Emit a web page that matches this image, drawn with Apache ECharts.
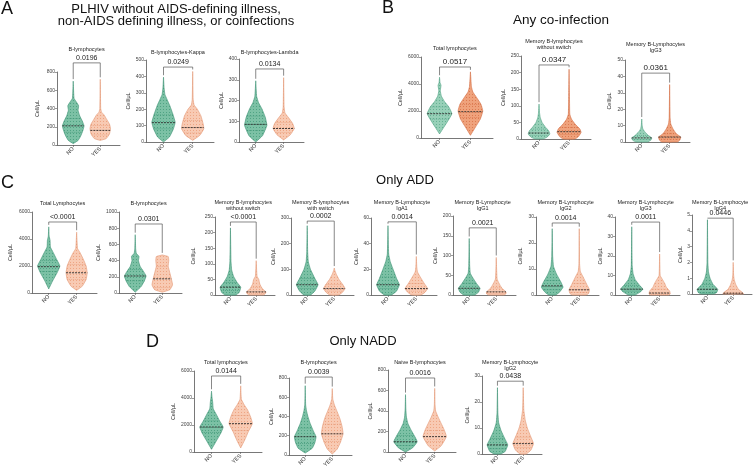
<!DOCTYPE html>
<html>
<head>
<meta charset="utf-8">
<script src="https://cdn.jsdelivr.net/npm/echarts@6/dist/echarts.min.js"></script>
<style>
html, body { margin: 0; padding: 0; background: #fff; }
#main { width: 756px; height: 470px; }
</style>
</head>
<body>
<div id="main"></div>
<script>
// values, one entry per small plot (A1..A3, B1..B3, C1..C9, D1..D4)
const groups = ['NO', 'YES'];
const titles = [
    'B-lymphocytes', 'B-lymphocytes-Kappa', 'B-lymphocytes-Lambda',
    'Total lymphocytes', 'Memory B-lymphocytes\nwithout switch', 'Memory B-Lymphocytes\nIgG3',
    'Total Lymphocytes', 'B-lymphocytes', 'Memory B-lymphocytes\nwithout switch', 'Memory B-lymphocytes\nwith switch',
    'Memory B-Lymphocyte\nIgA1', 'Memory B-Lymphocyte\nIgG1', 'Memory B-Lymphocyte\nIgG2', 'Memory B-Lymphocyte\nIgG3',
    'Memory B-Lymphocyte\nIgG4',
    'Total lymphocytes', 'B-lymphocytes', 'Naive B-lymphocytes', 'Memory B-Lymphocyte\nIgG2'
];
const pValues = ['0.0196', '0.0249', '0.0134', '0.0517', '0.0347', '0.0361', '<0.0001', '0.0301', '<0.0001',
    '0.0002', '0.0014', '0.0021', '0.0014', '0.0011', '0.0446', '0.0144', '0.0039', '0.0016', '0.0438'];
const yMax = [800, 500, 400, 6000, 250, 50, 6000, 1000, 250, 300, 60, 200, 30, 40, 5, 6000, 800, 800, 30];
const yStep = [200, 100, 100, 2000, 50, 10, 2000, 200, 50, 100, 20, 50, 10, 10, 1, 2000, 200, 200, 10];
const bracketAt = [900, 457, 352, 5260, 223, 42, 5260, 852, 234, 288, 57, 170, 27.7, 37.4, 4.8, 5630, 810, 722, 28];

const medNo = [210, 118, 85, 1800, 18, 2.5, 1950, 210, 25, 40, 8, 17, 3.5, 3, 0.3, 1850, 190, 100, 3.5];
const medYes = [160, 88, 65, 1950, 22, 3, 1500, 175, 10, 25, 5, 8, 2, 1, 0.05, 2100, 220, 150, 4];
const q1No = [140, 80, 55, 1400, 10, 1.5, 1600, 150, 15, 25, 5, 10, 2, 2, 0.1, 1450, 120, 65, 2];
const q3No = [290, 165, 125, 2300, 30, 4, 2400, 290, 40, 65, 14, 30, 5.5, 5, 0.6, 2300, 280, 160, 6];
const q1Yes = [110, 55, 45, 1500, 13, 1.8, 1000, 70, 5, 15, 3, 4, 1, 0.5, 0.02, 1600, 140, 100, 2.5];
const q3Yes = [215, 130, 95, 2500, 35, 5, 2100, 330, 25, 40, 9, 18, 4.5, 3, 0.3, 2700, 320, 210, 6.5];

// violin outlines: [value, relative half width]
const shapeNo = [
    [[15,0],[50,0.45],[100,0.7],[160,0.9],[210,1],[260,0.85],[320,0.6],[380,0.45],[430,0.5],[470,0.3],[510,0.08],[580,0.04],[700,0]],
    [[0,0],[30,0.5],[80,0.85],[120,1],[170,0.8],[220,0.55],[260,0.3],[290,0.12],[330,0.05],[395,0]],
    [[0,0],[30,0.6],[80,1],[120,0.85],[160,0.55],[190,0.25],[220,0.08],[295,0]],
    [[300,0],[800,0.35],[1300,0.7],[1800,1],[2300,0.75],[2700,0.4],[3100,0.15],[3500,0.06],[3900,0.12],[4100,0.04],[4500,0]],
    [[0,0.3],[5,0.65],[15,0.9],[25,0.8],[35,0.55],[50,0.25],[65,0.1],[80,0.04],[105,0]],
    [[0,0.5],[1,0.8],[2.5,0.9],[4,0.6],[6,0.3],[8,0.1],[10,0.04],[14,0]],
    [[300,0],[900,0.35],[1500,0.75],[2000,1],[2500,0.7],[3000,0.4],[3400,0.15],[3900,0.12],[4200,0.04],[4900,0]],
    [[10,0],[80,0.55],[150,0.85],[210,1],[270,0.75],[330,0.45],[400,0.3],[450,0.35],[490,0.1],[550,0.04],[720,0]],
    [[0,0.5],[8,0.85],[25,1],[40,0.65],[60,0.3],[80,0.12],[110,0.05],[215,0]],
    [[0,0.3],[15,0.7],[40,1],[65,0.7],[100,0.3],[130,0.1],[170,0.04],[270,0]],
    [[0,0.3],[3,0.75],[8,1],[13,0.75],[20,0.45],[26,0.2],[32,0.06],[54,0]],
    [[0,0.5],[7,0.85],[17,1],[30,0.65],[45,0.3],[55,0.1],[75,0.04],[143,0]],
    [[0,0.3],[1,0.65],[3,1],[5,0.8],[8,0.4],[11,0.12],[15,0.04],[25.5,0]],
    [[0,0.3],[1.5,0.75],[3,1],[5,0.7],[8,0.3],[11,0.12],[15,0.04],[35,0]],
    [[0,0.6],[0.1,0.9],[0.3,1],[0.6,0.55],[1,0.25],[1.4,0.1],[2,0.04],[4.7,0]],
    [[200,0],[800,0.4],[1400,0.8],[1850,1],[2300,0.7],[2800,0.4],[3200,0.15],[3700,0.1],[4000,0.05],[4500,0]],
    [[20,0],[70,0.65],[130,0.9],[190,1],[250,0.75],[330,0.45],[400,0.25],[460,0.12],[520,0.04],[720,0]],
    [[0,0],[40,0.6],[100,1],[160,0.75],[220,0.45],[280,0.2],[340,0.08],[420,0.03],[560,0]],
    [[0,0.3],[1,0.75],[3.5,1],[6,0.7],[9,0.35],[12,0.12],[16,0.04],[25.5,0]]
];
const shapeYes = [
    [[50,0],[70,0.55],[120,0.85],[180,0.95],[230,0.85],[280,0.6],[330,0.35],[360,0.12],[400,0.04],[720,0]],
    [[10,0],[40,0.6],[80,0.95],[110,0.9],[160,0.7],[200,0.4],[225,0.12],[260,0.04],[430,0]],
    [[10,0],[35,0.6],[65,0.95],[90,0.8],[120,0.4],[140,0.12],[170,0.04],[310,0]],
    [[200,0],[800,0.4],[1400,0.8],[2000,1],[2500,0.85],[3000,0.5],[3400,0.2],[3800,0.08],[4900,0]],
    [[0,0.5],[8,0.8],[20,1],[30,0.9],[45,0.5],[60,0.2],[75,0.06],[140,0.03],[210,0]],
    [[0,0.7],[1,0.9],[3,1],[5,0.6],[8,0.3],[11,0.1],[15,0.04],[35,0]],
    [[200,0],[500,0.5],[1000,0.85],[1500,0.95],[2000,0.85],[2500,0.6],[3000,0.3],[3300,0.08],[4500,0]],
    [[10,0],[40,0.7],[100,0.95],[170,0.85],[250,0.7],[330,0.55],[400,0.6],[450,0.55],[470,0]],
    [[0,0.7],[3,0.85],[10,0.95],[20,0.6],[35,0.35],[50,0.25],[60,0.08],[110,0]],
    [[0,0.4],[10,0.75],[25,1],[40,0.8],[60,0.45],[80,0.2],[95,0.06],[105,0]],
    [[0,0.4],[2,0.75],[5,1],[9,0.7],[14,0.35],[18,0.1],[22,0.04],[30,0]],
    [[0,0.7],[3,0.9],[8,0.9],[18,0.5],[30,0.25],[40,0.08],[60,0.04],[95,0]],
    [[0,0.6],[0.5,0.85],[2,0.95],[4,0.7],[7,0.35],[9,0.1],[12,0.03],[25.5,0]],
    [[0,0.8],[0.5,0.95],[2,0.9],[4,0.6],[6,0.45],[8,0.25],[10,0.05],[21,0]],
    [[0,1],[0.1,0.9],[0.3,0.5],[0.6,0.25],[0.9,0.1],[1.2,0.04],[2,0]],
    [[300,0],[900,0.35],[1500,0.65],[2100,1],[2600,0.85],[3100,0.6],[3500,0.3],[3900,0.06],[4900,0]],
    [[10,0],[60,0.45],[130,0.75],[220,1],[300,0.9],[380,0.7],[450,0.45],[520,0.2],[580,0.05],[690,0]],
    [[10,0],[60,0.55],[150,1],[220,0.8],[280,0.55],[340,0.3],[400,0.08],[460,0.03],[620,0]],
    [[0,0.3],[1.5,0.75],[4,1],[7,0.7],[10,0.4],[13,0.2],[17,0.06],[25.5,0]]
];

// layout: [left, top, width, height] of each plot area, title y, y-name gap
const boxes = [
    [57, 72, 63, 73], [146, 60, 68, 82], [239, 59, 65, 83],
    [421, 57, 72, 81], [521, 56, 70, 83], [625, 60, 65, 82],
    [32, 212, 65, 81], [119, 212, 63, 81], [215, 217, 60, 78], [291, 218, 63, 77], [371, 218, 66, 77],
    [453, 216, 63, 79], [536, 217, 63, 78], [615, 217, 65, 78], [692, 215, 60, 79],
    [194, 371, 68, 81], [289, 378, 63, 78], [388, 370, 68, 82], [482, 376, 60, 78]
];
const titleY = [49, 52, 52, 48, 41, 44, 203, 203, 202, 202, 202, 202, 202, 202, 202, 362, 362, 362, 362];
const nameGaps = [17, 12, 11, 16, 13, 13, 19, 16, 19, 14, 12, 14, 13, 11, 6, 16, 11, 11, 7];

const FONT = 'Liberation Sans, Arial, sans-serif';

function panelOf(g) {
    if (g < 3) return 'A';
    if (g < 6) return 'B';
    if (g < 15) return 'C';
    return 'D';
}

// small dotted tile so the violins look packed with points like the original
function dotTile(bg, dot) {
    const c = document.createElement('canvas');
    c.width = 3;
    c.height = 3;
    const ctx = c.getContext('2d');
    ctx.fillStyle = bg;
    ctx.fillRect(0, 0, 3, 3);
    ctx.fillStyle = dot;
    ctx.fillRect(1, 1, 1, 1);
    return { image: c, repeat: 'repeat' };
}
const palette = {
    green: { fill: dotTile('#7cc1a5', '#4fa383'), line: '#3a9172' },
    greenB: { fill: dotTile('#97d0b8', '#66b193'), line: '#4c9f80' },
    peach: { fill: dotTile('#f8cab3', '#eea583'), line: '#e39572' },
    orangeB: { fill: dotTile('#efa27c', '#dc7a50'), line: '#d46d43' }
};
function colorsOf(g, i) {
    const b = panelOf(g) === 'B';
    if (i === 0) return b ? palette.greenB : palette.green;
    return b ? palette.orangeB : palette.peach;
}
function widthAt(shape, v) {
    for (let k = 1; k < shape.length; k++) {
        if (v <= shape[k][0]) {
            const a = shape[k - 1], b = shape[k];
            const t = (v - a[0]) / (b[0] - a[0] || 1);
            return a[1] + t * (b[1] - a[1]);
        }
    }
    return 0;
}

function violinItem(g) {
    return function (params, api) {
        const i = params.dataIndex;
        const shape = i === 0 ? shapeNo[g] : shapeYes[g];
        const med = i === 0 ? medNo[g] : medYes[g];
        const q1 = i === 0 ? q1No[g] : q1Yes[g];
        const q3 = i === 0 ? q3No[g] : q3Yes[g];
        const col = colorsOf(g, i);
        const cx = api.coord([api.value(0), 0])[0];
        const hw = api.size([1, 0])[0] * 0.4;
        const left = [], right = [];
        shape.forEach(function (p) {
            const y = api.coord([1, p[0]])[1];
            left.push([cx - p[1] * hw, y]);
            right.unshift([cx + p[1] * hw, y]);
        });
        const hline = function (v, stroke, dash, lw) {
            const w = widthAt(shape, v) * hw;
            const y = api.coord([1, v])[1];
            return {
                type: 'line',
                shape: { x1: cx - w, y1: y, x2: cx + w, y2: y },
                style: { stroke: stroke, lineWidth: lw, lineDash: dash }
            };
        };
        return {
            type: 'group',
            children: [
                {
                    type: 'polygon',
                    shape: { points: left.concat(right), smooth: 0.12 },
                    style: { fill: col.fill, stroke: col.line, lineWidth: 0.6 }
                },
                hline(q1, col.line, [1, 1], 0.6),
                hline(q3, col.line, [1, 1], 0.6),
                hline(med, '#2b2b2b', [2, 1], 0.9)
            ]
        };
    };
}

function bracketItem(g) {
    return function (params, api) {
        const yb = api.coord([1, bracketAt[g]])[1];
        const x1 = api.coord([1, 0])[0];
        const x2 = api.coord([2, 0])[0];
        const topNo = api.coord([1, shapeNo[g][shapeNo[g].length - 1][0]])[1] - 2;
        const topYes = api.coord([2, shapeYes[g][shapeYes[g].length - 1][0]])[1] - 2;
        return {
            type: 'group',
            children: [
                {
                    type: 'polyline',
                    shape: { points: [[x1, Math.max(topNo, yb)], [x1, yb], [x2, yb], [x2, Math.max(topYes, yb)]] },
                    style: { stroke: '#555', lineWidth: 0.7, fill: null }
                },
                {
                    type: 'text',
                    style: {
                        text: pValues[g], x: (x1 + x2) / 2, y: yb - 1.5,
                        align: 'center', verticalAlign: 'bottom',
                        fontSize: panelOf(g) === 'B' ? 8 : 7, fontFamily: FONT, fill: '#222'
                    }
                }
            ]
        };
    };
}

const grids = [], xAxes = [], yAxes = [], series = [], texts = [];
boxes.forEach(function (b, g) {
    grids.push({ left: b[0], top: b[1], width: b[2], height: b[3] });
    xAxes.push({
        gridIndex: g, type: 'value', min: 0.4, max: 2.73,
        axisLine: { lineStyle: { color: '#555', width: 0.8 } },
        axisTick: { show: true, customValues: [1, 2], length: 2, lineStyle: { color: '#555', width: 0.6 } },
        axisLabel: {
            customValues: [1, 2], rotate: 45, fontSize: 5.5, margin: 3, color: '#333', fontFamily: FONT,
            formatter: function (v) { return groups[Math.round(v) - 1]; }
        },
        splitLine: { show: false }
    });
    yAxes.push({
        gridIndex: g, type: 'value', min: 0, max: yMax[g], interval: yStep[g],
        name: 'Cell/μL', nameLocation: 'middle', nameGap: nameGaps[g],
        nameTextStyle: { fontSize: 5.5, color: '#333', fontFamily: FONT },
        axisLine: { show: true, lineStyle: { color: '#555', width: 0.8 } },
        axisTick: { show: true, length: 2, lineStyle: { color: '#555', width: 0.6 } },
        axisLabel: {
            fontSize: 5, margin: 2, color: '#444', fontFamily: FONT,
            formatter: function (v) { return String(v); }
        },
        splitLine: { show: false }
    });
    series.push({
        type: 'custom', xAxisIndex: g, yAxisIndex: g,
        renderItem: violinItem(g),
        encode: { x: 0, y: 1 },
        data: [[1, medNo[g]], [2, medYes[g]]],
        silent: true
    });
    series.push({
        type: 'custom', xAxisIndex: g, yAxisIndex: g,
        renderItem: bracketItem(g),
        encode: { x: 0, y: 1 },
        data: [[1.5, bracketAt[g]]],
        silent: true, z: 5
    });
    texts.push({
        type: 'text',
        x: b[0] + b[2] * 0.47, y: titleY[g] - 3,
        style: {
            text: titles[g], align: 'center', verticalAlign: 'top',
            fontSize: 5.5, lineHeight: 6, fontFamily: FONT, fill: '#222'
        }
    });
});

// panel letters and section headers
const headers = [
    { text: 'A', x: 1, y: 1, size: 18, align: 'left' },
    { text: 'B', x: 382, y: 0, size: 18, align: 'left' },
    { text: 'C', x: 1, y: 175, size: 18, align: 'left' },
    { text: 'D', x: 146, y: 334, size: 18, align: 'left' },
    { text: 'PLHIV without AIDS-defining illness,\nnon-AIDS defining illness, or coinfections', x: 176, y: 3, size: 13, align: 'center' },
    { text: 'Any co-infection', x: 561, y: 14, size: 13.5, align: 'center' },
    { text: 'Only ADD', x: 405, y: 174, size: 13, align: 'center' },
    { text: 'Only NADD', x: 363, y: 335, size: 13, align: 'center' }
];
headers.forEach(function (h) {
    texts.push({
        type: 'text', x: h.x, y: h.y,
        style: {
            text: h.text, align: h.align, verticalAlign: 'top',
            fontSize: h.size, lineHeight: h.size * 0.93, fontFamily: FONT, fill: '#111'
        }
    });
});

const myChart = echarts.init(document.getElementById('main'));
myChart.setOption({
    animation: false,
    backgroundColor: '#fff',
    grid: grids,
    xAxis: xAxes,
    yAxis: yAxes,
    series: series,
    graphic: { elements: texts }
});
</script>
</body>
</html>
